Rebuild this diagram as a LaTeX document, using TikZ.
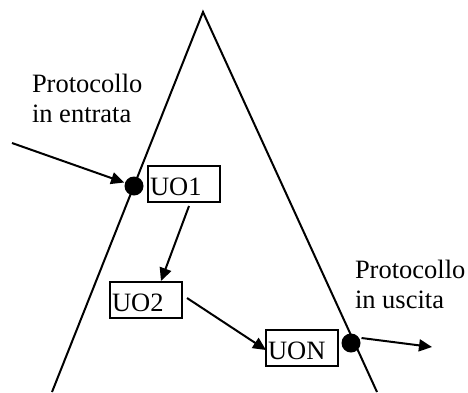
\documentclass[tikz,border=0pt]{standalone}
\usepackage{fontspec}
\setmainfont{Liberation Serif}
\usetikzlibrary{arrows.meta}
\begin{document}
\begin{tikzpicture}[x=1pt,y=-1pt,
  line width=2pt,
  every node/.style={font=\fontsize{26.5}{30}\selectfont},
  unit/.style={draw, rectangle, anchor=north west, outer sep=0pt,
    inner xsep=2pt, inner ysep=0pt, text width=68pt, align=left,
    text height=29pt, text depth=7pt},
  port/.style={circle, fill=black, draw=none, minimum size=19pt, inner sep=0pt},
  flow/.style={-{Triangle[length=13pt,width=12pt]}},
  caption/.style={anchor=north west, inner sep=0pt, align=left}
]
\useasboundingbox (0,0) rectangle (468,392);

% organisation boundary
\draw (52,392) -- (203,12) -- (377,392);

% entry and exit points on the boundary
\node[port] (dotL) at (134,186) {};
\node[port] (dotR) at (351,343) {};

% organisational units
\node[unit] (UO1) at (148,166) {UO1};
\node[unit] (UO2) at (110,282) {UO2};
\node[unit] (UON) at (266,330) {UON};

% captions
\node[caption] (capIn) at (31,73) {Protocollo\\in entrata};
\node[caption] (capOut) at (354,259) {Protocollo\\in uscita};

% document flow
\coordinate (inStart) at (12,143);
\coordinate (outEnd) at (432,347);
\draw[flow] (inStart) -- (dotL);
\draw[flow] ([xshift=5pt,yshift=-4pt]UO1.south) -- ([xshift=15pt,yshift=1pt]UO2.north);
\draw[flow] ([xshift=5pt,yshift=2pt]UO2.east) -- ([yshift=-2pt]UON.west);
\draw[flow] ([yshift=5pt]dotR.east) -- (outEnd);
\end{tikzpicture}
\end{document}
